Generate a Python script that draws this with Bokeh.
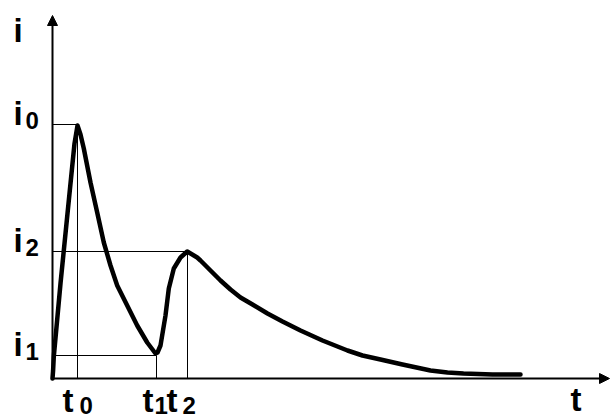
from bokeh.plotting import figure
from bokeh.models import Range1d, Arrow, NormalHead, ColumnDataSource, LabelSet
from bokeh.core.properties import value
from bokeh.embed import file_html
from bokeh.resources import INLINE

# ---- data (t, i) ----
curve_t = [0, 0.6, 1.3, 8, 13, 18, 22, 25,
           28, 31.3, 38, 44.7, 51.3, 58, 64.7, 74.7, 84.7, 94.7, 100, 103,
           105, 108, 113, 116.3, 121.3, 128, 134.7,
           144.7, 148, 158, 168, 178, 188, 200, 215, 230, 248, 270, 295, 310, 328, 350, 378,
           395, 411, 440, 468]
curve_i = [0, 8, 22, 95, 145, 195, 235, 253,
           244, 230, 196, 166, 136, 113, 93, 73, 53, 36, 29, 25,
           26, 33, 63, 90, 110, 121, 127,
           121, 118, 108, 98, 89, 81, 74, 65, 57, 48, 38, 28, 23, 19, 14, 8,
           6, 5, 4, 4]

t_marks = [25, 104, 135]          # t0, t1, t2
i_marks = [254, 23, 127]          # i0, i1, i2
tick_subs = ["0", "1", "2"]
axis_names = ["i", "t"]

# ---- layout / style ----
X_END = 557
Y_END = 363
FONT = value("Liberation Sans")
MAIN_SIZE = value("33px")
SUB_SIZE = value("24px")

p = figure(width=612, height=417, output_backend="svg", toolbar_location=None,
           x_range=Range1d(-52, 560), y_range=Range1d(-39, 378), min_border=0,
           tools="")
p.axis.visible = False
p.grid.visible = False
p.outline_line_color = None
p.background_fill_color = "white"

# helper lines
for tv, iv in zip(t_marks, i_marks):
    p.line([0, tv], [iv, iv], line_color="black", line_width=1)
    p.line([tv, tv], [0, iv], line_color="black", line_width=1)

# axes with arrows
p.add_layout(Arrow(end=NormalHead(size=10, fill_color="black", line_color="black"),
                   x_start=0, y_start=0, x_end=0, y_end=Y_END,
                   line_width=2, line_color="black"))
p.add_layout(Arrow(end=NormalHead(size=10, fill_color="black", line_color="black"),
                   x_start=0, y_start=0, x_end=X_END, y_end=0,
                   line_width=2, line_color="black"))

# curve
p.line(curve_t, curve_i, line_color="black", line_width=4.5, line_join="round", line_cap="round")


def labels(src, text, size, xo, yo):
    return LabelSet(x="x", y="y", text=text, source=src, x_offset=xo, y_offset=yo,
                    text_font=FONT, text_font_style="bold", text_font_size=size,
                    text_align="left", text_baseline="alphabetic", text_color="black")


# y tick labels (LabelSet y_offset: positive = up)
ysrc = ColumnDataSource(dict(x=[0] * 3, y=i_marks, main=["i"] * 3, sub=tick_subs))
p.add_layout(labels(ysrc, "main", MAIN_SIZE, -39, 0))
p.add_layout(labels(ysrc, "sub", SUB_SIZE, -27, -4))

# x tick labels
main_dx = [-15, -14, -21]
sub_dx = [2, -2, -5]
xsrc = ColumnDataSource(dict(x=t_marks, y=[0] * 3, main=["t"] * 3, sub=tick_subs,
                             mdx=main_dx, sdx=sub_dx))
p.add_layout(labels(xsrc, "main", MAIN_SIZE, "mdx", -33))
p.add_layout(labels(xsrc, "sub", SUB_SIZE, "sdx", -35))

# axis names
nsrc = ColumnDataSource(dict(x=[0, X_END], y=[Y_END, 0], name=axis_names,
                             dx=[-39, -39], dy=[-26, -32]))
p.add_layout(labels(nsrc, "name", MAIN_SIZE, "dx", "dy"))

open("out.html", "w").write(file_html(p, INLINE))
